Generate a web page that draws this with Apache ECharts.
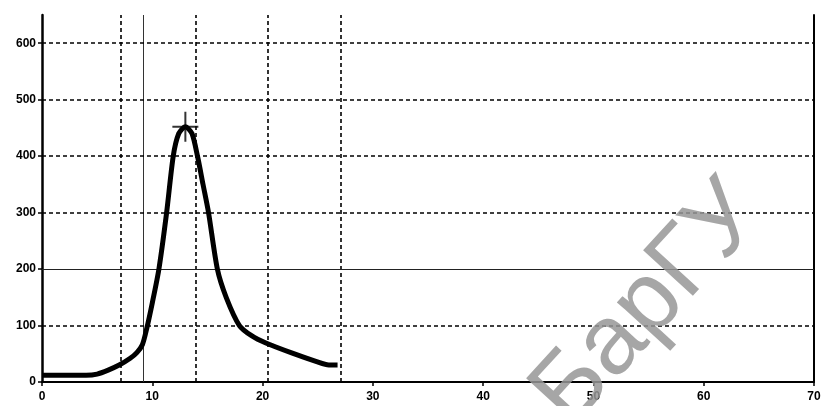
<!DOCTYPE html>
<html>
<head>
<meta charset="utf-8">
<script src="https://cdn.jsdelivr.net/npm/echarts@6/dist/echarts.min.js"></script>
<style>html,body{margin:0;padding:0;background:#fff}#c{width:834px;height:406px}</style>
</head>
<body>
<div id="c"></div>
<script>
// Data
var curveX = [0, 2, 4, 5, 6, 7, 8, 8.6, 9.1, 9.5, 10.0, 10.6, 11.3, 11.9, 12.4, 13.0, 13.6, 14.1, 14.6, 15.1, 15.9, 16.7, 17.9, 19.0, 20.3, 22.7, 24.9, 26.0, 26.8];
var curveY = [12, 12, 12, 14, 21, 30, 42, 52, 66, 95, 140, 200, 300, 400, 440, 452, 440, 400, 350, 300, 200, 150, 100, 82, 69, 51, 36, 30, 30];
var peakX = [13.0];
var peakY = [452];
var dashedVLines = [7.1, 13.9, 20.5, 27.1];
var solidVLines = [9.2];
var dashedHLines = [100, 300, 400, 500, 600];
var solidHLines = [200];
var xTicks = [0, 10, 20, 30, 40, 50, 60, 70];
var yTicks = [0, 100, 200, 300, 400, 500, 600];
var watermark = 'БарГУ';

var chart = echarts.init(document.getElementById('c'), null, {renderer: 'canvas'});
var dashStyle = {color: '#000', width: 1.6, type: [4, 3]};
var labelFont = {color: '#000', fontFamily: 'Liberation Sans, Arial, sans-serif', fontWeight: 'bold', fontSize: 12};

var markData = [];
dashedVLines.forEach(function (v) { markData.push({xAxis: v, lineStyle: dashStyle}); });
solidVLines.forEach(function (v) { markData.push({xAxis: v, lineStyle: {color: '#333', width: 1, type: 'solid'}}); });
dashedHLines.forEach(function (v) { markData.push({yAxis: v, lineStyle: dashStyle}); });
solidHLines.forEach(function (v) { markData.push({yAxis: v, lineStyle: {color: '#222', width: 1, type: 'solid'}}); });

chart.setOption({
  animation: false,
  backgroundColor: '#fff',
  grid: {left: 42, right: 20, top: 15, bottom: 24, show: false},
  xAxis: {
    type: 'value', min: 0, max: 70, interval: 10,
    axisLine: {show: true, onZero: false, lineStyle: {color: '#000', width: 2}},
    axisTick: {show: true, length: 4, inside: false, lineStyle: {color: '#000', width: 1.5}, customValues: xTicks},
    axisLabel: Object.assign({margin: 9, customValues: xTicks, showMaxLabel: true}, labelFont),
    splitLine: {show: false}
  },
  yAxis: [{
    type: 'value', min: 0, max: 650,
    axisLine: {show: true, lineStyle: {color: '#000', width: 2.5}},
    axisTick: {show: true, length: 4, lineStyle: {color: '#000', width: 1.5}, customValues: yTicks},
    axisLabel: Object.assign({margin: 6, customValues: yTicks}, labelFont),
    splitLine: {show: false}
  }, {
    type: 'value', min: 0, max: 650, position: 'right',
    axisLine: {show: true, lineStyle: {color: '#000', width: 2}},
    axisTick: {show: false}, axisLabel: {show: false}, splitLine: {show: false}
  }],
  graphic: [{
    type: 'text',
    x: 648, y: 305, rotation: 0.83,
    style: {
      text: watermark, fill: 'rgba(150,150,150,0.85)',
      font: 'normal 98px "Liberation Sans", Arial, sans-serif',
      align: 'center', verticalAlign: 'middle'
    },
    z: 10
  }],
  series: [{
    type: 'line',
    data: curveX.map(function (x, i) { return [x, curveY[i]]; }),
    showSymbol: false, smooth: 0.25,
    lineStyle: {color: '#000', width: 5},
    z: 5,
    markLine: {silent: true, symbol: 'none', label: {show: false}, data: markData, z: 1}
  }, {
    type: 'scatter',
    data: peakX.map(function (x, i) { return [x, peakY[i]]; }),
    symbol: 'path://M12,0h2v30h-2zM0,14h26v2h-26z',
    symbolSize: [26, 30],
    itemStyle: {color: '#000'},
    z: 6
  }]
});
</script>
</body>
</html>
